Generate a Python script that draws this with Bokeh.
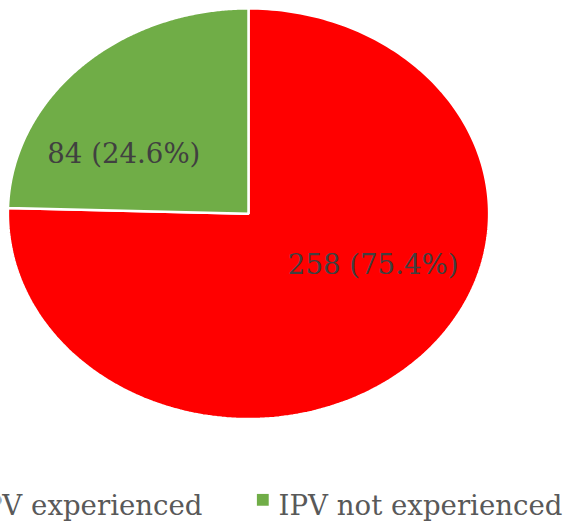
import numpy as np
from bokeh.plotting import figure
from bokeh.models import Range1d, ColumnDataSource
from bokeh.core.properties import value
from bokeh.embed import file_html
from bokeh.resources import INLINE

# ---- data ----
categories = ["IPV experienced", "IPV not experienced"]
counts = [258, 84]
percents = [75.4, 24.6]
colors = ["#FF0000", "#70AD47"]

# ---- layout (data space = reference pixel space) ----
W, H = 568, 521
REF_W, REF_H = 576, 529
cx, cy = 251.5, 216.5
rx, ry = 244.0, 208.5
kx, ky = 0.743, 0.378  # label placement factors
label_shift = -5       # text middle vs glyph centre

p = figure(width=W, height=H, output_backend="svg", toolbar_location=None,
           x_range=Range1d(0, REF_W), y_range=Range1d(REF_H, 0),
           min_border=0)
p.axis.visible = False
p.grid.visible = False
p.outline_line_color = None
p.background_fill_color = "white"
p.border_fill_color = "white"

total = float(sum(counts))
start = np.pi / 2  # start at top, go clockwise
xs, ys, lx, ly, labels = [], [], [], [], []
for c, pc in zip(counts, percents):
    sweep = 2 * np.pi * c / total
    end = start - sweep
    t = np.linspace(start, end, 240)
    px = np.concatenate([[cx], cx + rx * np.cos(t), [cx]])
    py = np.concatenate([[cy], cy - ry * np.sin(t), [cy]])
    xs.append(list(px))
    ys.append(list(py))
    mid = (start + end) / 2
    lx.append(cx + kx * rx * np.cos(mid))
    ly.append(cy - ky * ry * np.sin(mid) + label_shift)
    labels.append(f"{c} ({pc}%)")
    start = end

src = ColumnDataSource(dict(xs=xs, ys=ys, color=colors))
p.patches("xs", "ys", source=src, fill_color="color", line_color="white",
          line_width=2.5)

p.text(x=lx, y=ly, text=labels, text_align="center", text_baseline="middle",
       text_font=value("DejaVu Serif"), text_font_size="27.6px",
       text_color="#404040")

# ---- legend (drawn, clipped at the left like the reference) ----
leg_baseline = 513
leg_text_x = [-28, 282]
leg_sq_x = [-44, 266]
p.rect(x=leg_sq_x, y=[leg_baseline - 6] * 2, width=12, height=12,
       fill_color=colors, line_color=None)
p.text(x=leg_text_x, y=[leg_baseline, leg_baseline], text=categories,
       text_align="left", text_baseline="alphabetic",
       text_font=value("DejaVu Serif"), text_font_size="27.6px",
       text_color="#595959")

open("out.html", "w").write(file_html(p, INLINE))
